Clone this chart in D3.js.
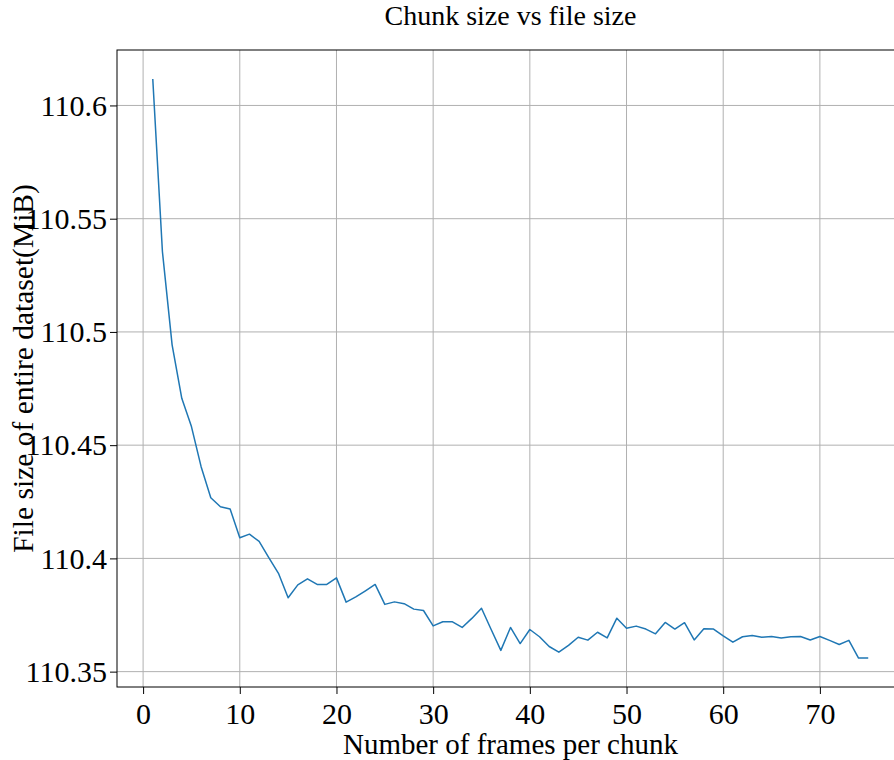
<!DOCTYPE html>
<html>
<head>
<meta charset="utf-8">
<script src="https://cdn.jsdelivr.net/npm/d3@7"></script>
<style>
  html, body { margin: 0; padding: 0; background: #fff; overflow: hidden; }
  svg { display: block; }
  text { font-family: "Liberation Serif", "DejaVu Serif", serif; fill: #000; }
</style>
</head>
<body>
<svg id="chart" width="894" height="760"></svg>
<script>
const title = "Chunk size vs file size";
const xLabel = "Number of frames per chunk";
const yLabel = "File size of entire dataset(MiB)";

const frames = d3.range(1, 76); // 1..75 frames per chunk (category positions)
const fileSizes = [
  110.6117, 110.5354, 110.4943, 110.4707, 110.4582, 110.4405, 110.4268, 110.4228, 110.4218, 110.4091,
  110.4107, 110.4075, 110.4003, 110.3934, 110.3826, 110.3883, 110.3910, 110.3885, 110.3885, 110.3914,
  110.3807, 110.3830, 110.3857, 110.3885, 110.3797, 110.3808, 110.3800, 110.3776, 110.3770, 110.3702,
  110.3720, 110.3720, 110.3695, 110.3735, 110.3780, 110.3686, 110.3594, 110.3695, 110.3624, 110.3686,
  110.3654, 110.3611, 110.3586, 110.3616, 110.3652, 110.3639, 110.3674, 110.3649, 110.3736, 110.3692,
  110.3701, 110.3688, 110.3667, 110.3717, 110.3688, 110.3716, 110.3640, 110.3689, 110.3688, 110.3658,
  110.3630, 110.3654, 110.3660, 110.3652, 110.3655, 110.3649, 110.3654, 110.3655, 110.3640, 110.3655,
  110.3638, 110.3620, 110.3638, 110.3560, 110.3560
];
const xTicks = [0, 10, 20, 30, 40, 50, 60, 70];
const yTicks = [110.35, 110.4, 110.45, 110.5, 110.55, 110.6];

const svg = d3.select("#chart");
const L = 117, T = 50, R = 904, B = 687;

const xMin = 1 - 0.05 * 74, xMax = 75 + 0.05 * 74;
const yExt = d3.extent(fileSizes);
const yPad = 0.05 * (yExt[1] - yExt[0]);

const x = d3.scaleLinear().domain([xMin, xMax]).range([L, R]);
const y = d3.scaleLinear().domain([yExt[0] - yPad, yExt[1] + yPad]).range([B, T]);

// grid
const grid = svg.append("g");
grid.selectAll(".gx").data(xTicks).join("line")
  .attr("x1", d => x(d)).attr("x2", d => x(d)).attr("y1", T).attr("y2", B)
  .attr("stroke", "#b0b0b0").attr("stroke-width", 1);
grid.selectAll(".gy").data(yTicks).join("line")
  .attr("x1", L).attr("x2", R).attr("y1", d => y(d)).attr("y2", d => y(d))
  .attr("stroke", "#b0b0b0").attr("stroke-width", 1);

// line
svg.append("path")
  .datum(frames.map((f, i) => [f, fileSizes[i]]))
  .attr("fill", "none")
  .attr("stroke", "#1f77b4")
  .attr("stroke-width", 1.5)
  .attr("stroke-linejoin", "round")
  .attr("d", d3.line().x(d => x(d[0])).y(d => y(d[1])));

// axes
const xAxis = d3.axisBottom(x).tickValues(xTicks).tickFormat(d3.format("d")).tickSizeOuter(0).tickSize(7).tickPadding(9);
const yAxis = d3.axisLeft(y).tickValues(yTicks).tickFormat(d => String(+d.toFixed(2))).tickSizeOuter(0).tickSize(7).tickPadding(3);

const gx = svg.append("g").attr("transform", `translate(0,${B})`).call(xAxis);
const gy = svg.append("g").attr("transform", `translate(${L},0)`).call(yAxis);
[gx, gy].forEach(g => {
  g.select(".domain").remove();
  g.selectAll(".tick line").attr("stroke", "#000").attr("stroke-width", 1);
  g.selectAll(".tick text").attr("font-size", 30).attr("font-family", "Liberation Serif");
});

// frame
svg.append("rect").attr("x", L).attr("y", T).attr("width", R - L).attr("height", B - T)
  .attr("fill", "none").attr("stroke", "#000").attr("stroke-width", 1);

// labels
svg.append("text").attr("x", (L + R) / 2).attr("y", 25).attr("text-anchor", "middle")
  .attr("font-size", 28).text(title);
svg.append("text").attr("x", (L + R) / 2).attr("y", 754).attr("text-anchor", "middle")
  .attr("font-size", 29).text(xLabel);
svg.append("text").attr("transform", `translate(33,${(T + B) / 2}) rotate(-90)`)
  .attr("text-anchor", "middle").attr("font-size", 29.5).text(yLabel);
</script>
</body>
</html>
